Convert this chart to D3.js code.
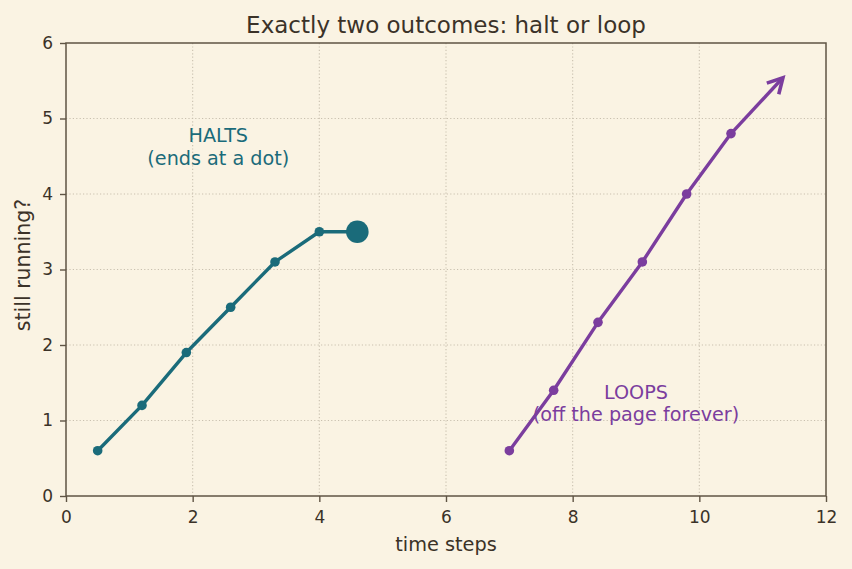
<!DOCTYPE html>
<html><head><meta charset="utf-8">
<script src="https://cdn.jsdelivr.net/npm/d3@7/dist/d3.min.js"></script>
<style>body{margin:0;background:#faf3e3;} svg{display:block;font-family:"DejaVu Sans",sans-serif;}</style>
</head><body><svg id="c" width="852" height="569"></svg>
<script>
const haltX = [0.5, 1.2, 1.9, 2.6, 3.3, 4.0, 4.6];
const haltY = [0.6, 1.2, 1.9, 2.5, 3.1, 3.5, 3.5];
const loopX = [7.0, 7.7, 8.4, 9.1, 9.8, 10.5];
const loopY = [0.6, 1.4, 2.3, 3.1, 4.0, 4.8];
const loopArrowEnd = [11.32, 5.54];
const xTicks = [0, 2, 4, 6, 8, 10, 12];
const yTicks = [0, 1, 2, 3, 4, 5, 6];

const svg = d3.select("#c");
const m = {l:66, r:826, t:43, b:496};
const x = d3.scaleLinear().domain([0,12]).range([m.l, m.r]);
const y = d3.scaleLinear().domain([0,6]).range([m.b, m.t]);
const axisC = "#5f5444", textC = "#3b3228", gridC = "#c9c0af";
const teal = "#1a6b7a", purple = "#7b3d9e";
const FF = "DejaVu Sans";

svg.append("rect").attr("width",852).attr("height",569).attr("fill","#faf3e3");

// grid
svg.append("g").selectAll("line").data(xTicks.slice(1,-1)).join("line")
  .attr("x1",d=>x(d)).attr("x2",d=>x(d)).attr("y1",m.t).attr("y2",m.b)
  .attr("stroke",gridC).attr("stroke-width",1.1).attr("stroke-dasharray","1.2,2.2");
svg.append("g").selectAll("line").data(yTicks.slice(1,-1)).join("line")
  .attr("y1",d=>y(d)).attr("y2",d=>y(d)).attr("x1",m.l).attr("x2",m.r)
  .attr("stroke",gridC).attr("stroke-width",1.1).attr("stroke-dasharray","1.2,2.2");

// axes
const gx = svg.append("g").attr("transform",`translate(0,${m.b})`)
  .call(d3.axisBottom(x).tickValues(xTicks).tickFormat(d3.format("d")).tickSize(6).tickPadding(9));
const gy = svg.append("g").attr("transform",`translate(${m.l},0)`)
  .call(d3.axisLeft(y).tickValues(yTicks).tickFormat(d3.format("d")).tickSize(6).tickPadding(7));
[gx,gy].forEach(g=>{
  g.attr("font-family",FF);
  g.select(".domain").remove();
  g.selectAll("line").attr("stroke",axisC).attr("stroke-width",1.4);
  g.selectAll("text").attr("fill",textC).attr("font-size",17).attr("font-family",FF);
});
svg.append("rect").attr("x",m.l).attr("y",m.t).attr("width",m.r-m.l).attr("height",m.b-m.t)
  .attr("fill","none").attr("stroke",axisC).attr("stroke-width",1.5);

// labels
svg.append("text").attr("x",(m.l+m.r)/2).attr("y",32.5).attr("text-anchor","middle").attr("font-family",FF)
  .attr("fill",textC).attr("font-size",23).text("Exactly two outcomes: halt or loop");
svg.append("text").attr("x",446).attr("y",551).attr("text-anchor","middle").attr("font-family",FF)
  .attr("fill",textC).attr("font-size",19.3).text("time steps");
svg.append("text").attr("transform",`translate(30,${265}) rotate(-90)`).attr("text-anchor","middle").attr("font-family",FF)
  .attr("fill",textC).attr("font-size",20.5).text("still running?");

// halt series
const hd = haltX.map((v,i)=>[v,haltY[i]]);
const line = d3.line().x(d=>x(d[0])).y(d=>y(d[1]));
svg.append("path").attr("d",line(hd)).attr("fill","none").attr("stroke",teal).attr("stroke-width",3.4).attr("stroke-linejoin","round");
svg.append("g").selectAll("circle").data(hd.slice(0,-1)).join("circle")
  .attr("cx",d=>x(d[0])).attr("cy",d=>y(d[1])).attr("r",4.8).attr("fill",teal);
svg.append("circle").attr("cx",x(hd[hd.length-1][0])).attr("cy",y(hd[hd.length-1][1])).attr("r",11.3).attr("fill",teal);

// loop series
const ld = loopX.map((v,i)=>[v,loopY[i]]);
svg.append("path").attr("d",line(ld)).attr("fill","none").attr("stroke",purple).attr("stroke-width",3.4).attr("stroke-linejoin","round");
svg.append("g").selectAll("circle").data(ld).join("circle")
  .attr("cx",d=>x(d[0])).attr("cy",d=>y(d[1])).attr("r",4.8).attr("fill",purple);
// arrow
const last = ld[ld.length-1];
const x0=x(last[0]), y0=y(last[1]), x1=x(loopArrowEnd[0]), y1=y(loopArrowEnd[1]);
svg.append("line").attr("x1",x0).attr("y1",y0).attr("x2",x1-1.5).attr("y2",y1+1.5)
  .attr("stroke",purple).attr("stroke-width",3.4);
const ang = Math.atan2(y1-y0, x1-x0), L=17, spread=0.5;
const p1=[x1-L*Math.cos(ang-spread), y1-L*Math.sin(ang-spread)];
const p2=[x1-L*Math.cos(ang+spread), y1-L*Math.sin(ang+spread)];
svg.append("path").attr("d",`M${p1[0]},${p1[1]}L${x1},${y1}L${p2[0]},${p2[1]}`)
  .attr("fill","none").attr("stroke",purple).attr("stroke-width",3.6).attr("stroke-linejoin","miter").attr("stroke-linecap","butt");

// annotations
const ann = (cx, cy, lines, col) => {
  lines.forEach((t,i)=>svg.append("text").attr("x",cx).attr("y",cy+i*22.5).attr("text-anchor","middle").attr("font-family",FF)
    .attr("fill",col).attr("font-size",19.2).text(t));
};
ann(x(2.405), 142.3, ["HALTS","(ends at a dot)"], teal);
ann(x(9.0), 398.5, ["LOOPS","(off the page forever)"], purple);
</script></body></html>
